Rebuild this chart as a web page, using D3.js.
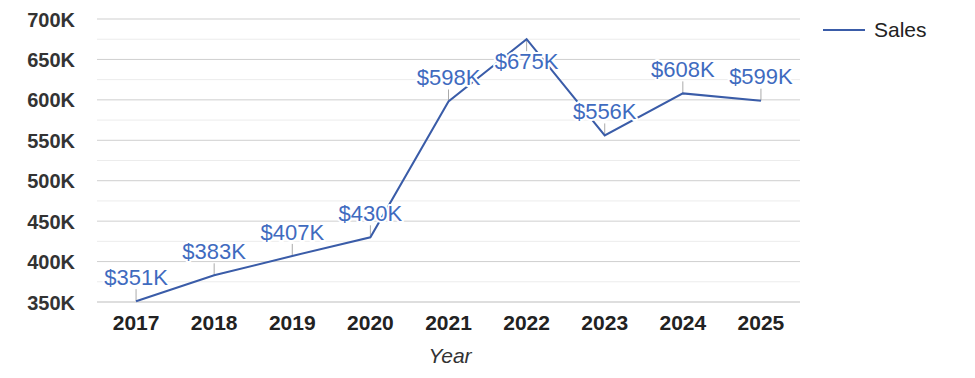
<!DOCTYPE html>
<html><head><meta charset="utf-8">
<script src="https://cdn.jsdelivr.net/npm/d3@7"></script>
<style>body{margin:0;background:#fff}svg{display:block;font-family:"Liberation Sans",Arial,sans-serif}</style>
</head><body><svg id="c" width="975" height="378"></svg>
<script>
const years = ["2017","2018","2019","2020","2021","2022","2023","2024","2025"];
const sales = [351000,383000,407000,430000,598000,675000,556000,608000,599000];
const yTicks = [350000,400000,450000,500000,550000,600000,650000,700000];
const minorTicks = [375000,425000,475000,525000,575000,625000,675000];
const labelBelow = [false,false,false,false,false,true,false,false,false];
const seriesName = "Sales";
const axisTitle = "Year";

(function () {
const svg = d3.select("#c");
const pLeft = 97, pRight = 800, pTop = 19, pBottom = 302;
const x = d3.scaleBand().domain(years).range([pLeft, pRight]);
const y = d3.scaleLinear().domain([350000, 700000]).range([pBottom, pTop]);
const cx = d => x(d) + x.bandwidth() / 2;

svg.append("g").selectAll("line").data(minorTicks).join("line")
  .attr("x1", pLeft).attr("x2", pRight).attr("y1", d => y(d)).attr("y2", d => y(d))
  .attr("stroke", "#ececec").attr("stroke-width", 1);
svg.append("g").selectAll("line").data(yTicks).join("line")
  .attr("x1", pLeft).attr("x2", pRight).attr("y1", d => y(d)).attr("y2", d => y(d))
  .attr("stroke", d => d === 350000 ? "#bdbdbd" : "#cfcfcf").attr("stroke-width", 1);

const yAxis = d3.axisLeft(y).tickValues(yTicks).tickFormat(d => (d / 1000) + "K").tickSize(0).tickPadding(0);
const gy = svg.append("g").attr("transform", `translate(${pLeft - 22},0)`).call(yAxis);
gy.select(".domain").remove();
gy.selectAll("text").attr("font-size", 20).attr("font-weight", "bold").attr("fill", "#333")
  .attr("font-family", "Liberation Sans, Arial, sans-serif").attr("dy", "0.35em");

const xAxis = d3.axisBottom(x).tickSize(0).tickPadding(0);
const gx = svg.append("g").attr("transform", `translate(0,${pBottom + 13})`).call(xAxis);
gx.select(".domain").remove();
gx.selectAll("text").attr("font-size", 21).attr("font-weight", "bold").attr("fill", "#222")
  .attr("font-family", "Liberation Sans, Arial, sans-serif");

svg.append("text").attr("x", 450).attr("y", 363).attr("text-anchor", "middle")
  .attr("font-size", 21).attr("font-style", "italic").attr("fill", "#333").text(axisTitle);

const data = years.map((d, i) => ({year: d, v: sales[i], below: labelBelow[i]}));

svg.append("g").selectAll("line").data(data).join("line")
  .attr("x1", d => cx(d.year)).attr("x2", d => cx(d.year))
  .attr("y1", d => y(d.v)).attr("y2", d => y(d.v) + (d.below ? 12 : -12))
  .attr("stroke", "#aaa").attr("stroke-width", 1);

const line = d3.line().x(d => cx(d.year)).y(d => y(d.v));
svg.append("path").datum(data).attr("d", line).attr("fill", "none")
  .attr("stroke", "#3a5ca8").attr("stroke-width", 2);

svg.append("g").selectAll("text").data(data).join("text")
  .attr("x", d => cx(d.year)).attr("y", d => y(d.v) + (d.below ? 22 : -24))
  .attr("dy", "0.35em").attr("text-anchor", "middle")
  .attr("font-size", 22).attr("fill", "#3f6bbf")
  .attr("stroke", "#fff").attr("stroke-width", 4).attr("paint-order", "stroke")
  .attr("stroke-linejoin", "round")
  .text(d => "$" + Math.round(d.v / 1000) + "K");

const lg = svg.append("g");
lg.append("line").attr("x1", 823).attr("x2", 865).attr("y1", 30).attr("y2", 30)
  .attr("stroke", "#3a5ca8").attr("stroke-width", 2);
lg.append("text").attr("x", 874).attr("y", 30).attr("dy", "0.35em")
  .attr("font-size", 21).attr("fill", "#222").text(seriesName);
})();
</script></body></html>
